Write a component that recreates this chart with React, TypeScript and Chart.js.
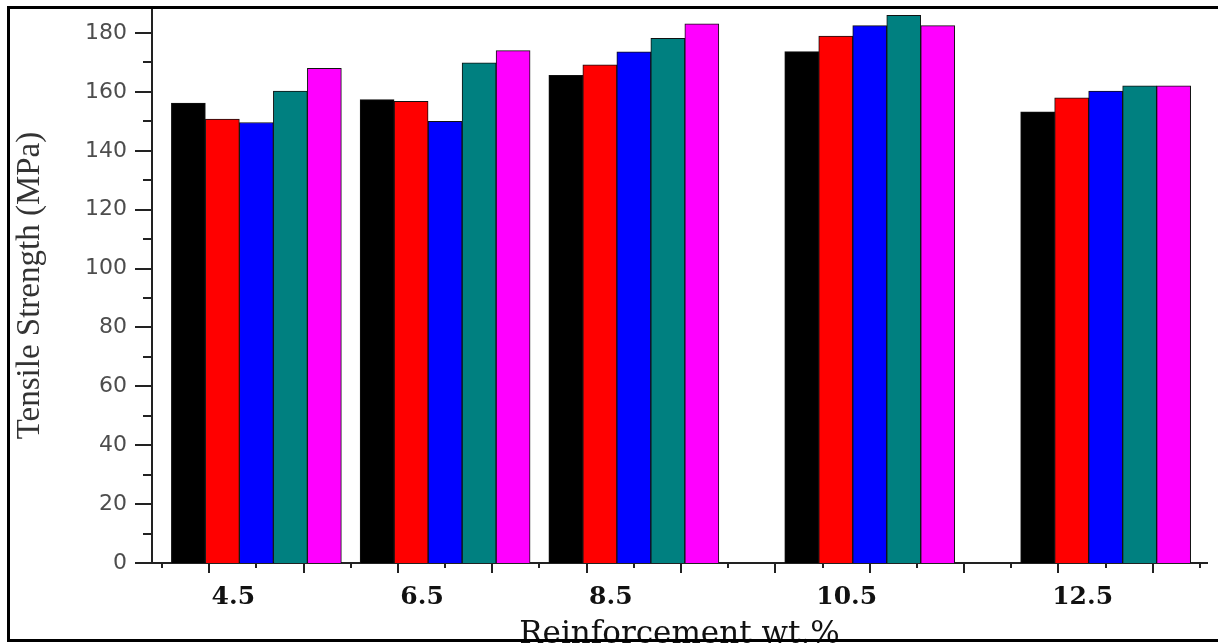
import React, { useEffect, useRef } from 'react';
import { Chart, registerables } from 'chart.js';

Chart.register(...registerables);

// Category labels and where each group sits on the (linear) x axis
const categories = ['4.5', '6.5', '8.5', '10.5', '12.5'];
const groupX = [4.5, 6.5, 8.5, 11, 13.5];

// Tensile strength (MPa) per series
const seriesBlack = [156.2, 157.4, 165.6, 173.7, 153.2];
const seriesRed = [150.8, 156.8, 169.2, 179.0, 158.0];
const seriesBlue = [149.6, 150.0, 173.6, 182.5, 160.3];
const seriesTeal = [160.3, 169.9, 178.2, 186.0, 162.1];
const seriesMagenta = [168.0, 174.0, 183.1, 182.5, 162.1];

// Axis tick values
const xTickValues = [3.5, 4, 4.5, 5, 5.5, 6, 6.5, 7, 7.5, 8, 8.5, 9, 9.5, 10, 10.5, 11, 11.5, 12, 12.5, 13, 13.5, 14, 14.5];
const yTickValues = [0, 10, 20, 30, 40, 50, 60, 70, 80, 90, 100, 110, 120, 130, 140, 150, 160, 170, 180];

const seriesList = [
  { label: 'Series 1', values: seriesBlack, color: '#000000' },
  { label: 'Series 2', values: seriesRed, color: '#ff0000' },
  { label: 'Series 3', values: seriesBlue, color: '#0000ff' },
  { label: 'Series 4', values: seriesTeal, color: '#008080' },
  { label: 'Series 5', values: seriesMagenta, color: '#ff00ff' },
];

const tickMarks = {
  id: 'tickMarks',
  afterDraw(chart: any) {
    const { ctx, chartArea } = chart;
    const x = chart.scales.x;
    const y = chart.scales.y;
    ctx.save();
    ctx.strokeStyle = '#222';
    ctx.lineWidth = 2;
    ctx.beginPath();
    y.ticks.forEach((t: any) => {
      const py = Math.round(y.getPixelForValue(t.value));
      const len = t.value % 20 === 0 ? 17 : 9;
      ctx.moveTo(chartArea.left - len, py);
      ctx.lineTo(chartArea.left, py);
    });
    x.ticks.forEach((t: any) => {
      const px = Math.round(x.getPixelForValue(t.value));
      const len = Number.isInteger(t.value) ? 10 : 5;
      ctx.moveTo(px, chartArea.bottom);
      ctx.lineTo(px, chartArea.bottom + len);
    });
    ctx.stroke();
    ctx.restore();
  },
};

export default function App() {
  const canvasRef = useRef<HTMLCanvasElement | null>(null);

  useEffect(() => {
    if (!canvasRef.current) return;
    const chart = new Chart(canvasRef.current, {
      type: 'bar',
      data: {
        datasets: seriesList.map((s) => ({
          label: s.label,
          data: groupX.map((gx, i) => ({ x: gx, y: s.values[i] })),
          backgroundColor: s.color,
          borderColor: '#111',
          borderWidth: 1,
          barThickness: 34,
        })),
      },
      options: {
        animation: false,
        responsive: false,
        devicePixelRatio: 1,
        layout: { padding: { top: 8, right: 11, left: 0, bottom: 0 } },
        plugins: { legend: { display: false }, tooltip: { enabled: false } },
        scales: {
          x: {
            type: 'linear',
            offset: false,
            min: 3.394,
            max: 14.574,
            grid: { display: false, drawTicks: false },
            border: { display: true, color: '#222', width: 2 },
            afterBuildTicks: (axis: any) => {
              axis.ticks = xTickValues.map((v) => ({ value: v }));
            },
            afterFit: (s: any) => {
              s.height = 80;
              s.paddingLeft = 0;
              s.paddingRight = 0;
            },
            ticks: {
              autoSkip: false,
              maxRotation: 0,
              minRotation: 0,
              padding: 19,
              labelOffset: -23,
              color: '#111',
              font: { family: 'DejaVu Serif', size: 25, weight: 'bold' },
              callback: (value: any) => {
                const idx = groupX.indexOf(Number(value));
                return idx >= 0 ? categories[idx] : '';
              },
            },
            title: {
              display: true,
              text: 'Reinforcement wt.%',
              color: '#111',
              font: { family: 'DejaVu Serif', size: 31, lineHeight: 0.5 },
              padding: { top: 0, bottom: 0 },
            },
          },
          y: {
            type: 'linear',
            min: 0,
            max: 188.5,
            grid: { display: false, drawTicks: false },
            border: { display: true, color: '#222', width: 2 },
            afterBuildTicks: (axis: any) => {
              axis.ticks = yTickValues.map((v) => ({ value: v }));
            },
            afterFit: (s: any) => {
              s.width = 152;
              s.paddingTop = 0;
              s.paddingBottom = 0;
            },
            ticks: {
              padding: 25,
              color: '#4d4d4d',
              font: { family: 'DejaVu Sans', size: 22 },
              callback: (value: any) => (Number(value) % 20 === 0 ? String(value) : ''),
            },
            title: {
              display: true,
              text: 'Tensile Strength (MPa)',
              color: '#333',
              font: { family: 'Liberation Serif', size: 33 },
              padding: { top: 11, bottom: 0 },
            },
          },
        },
      },
      plugins: [tickMarks],
    } as any);
    return () => chart.destroy();
  }, []);

  return (
    <div
      style={{
        position: 'absolute',
        left: 0,
        top: 0,
        width: 1218,
        height: 643,
        overflow: 'hidden',
        background: '#fff',
      }}
    >
      <canvas
        ref={canvasRef}
        width={1218}
        height={643}
        style={{ position: 'absolute', left: 0, top: 0, width: 1218, height: 643 }}
      />
      <div
        style={{
          position: 'absolute',
          left: 7,
          top: 6,
          width: 1240,
          height: 636,
          boxSizing: 'border-box',
          border: '3px solid #000',
          pointerEvents: 'none',
        }}
      />
    </div>
  );
}
